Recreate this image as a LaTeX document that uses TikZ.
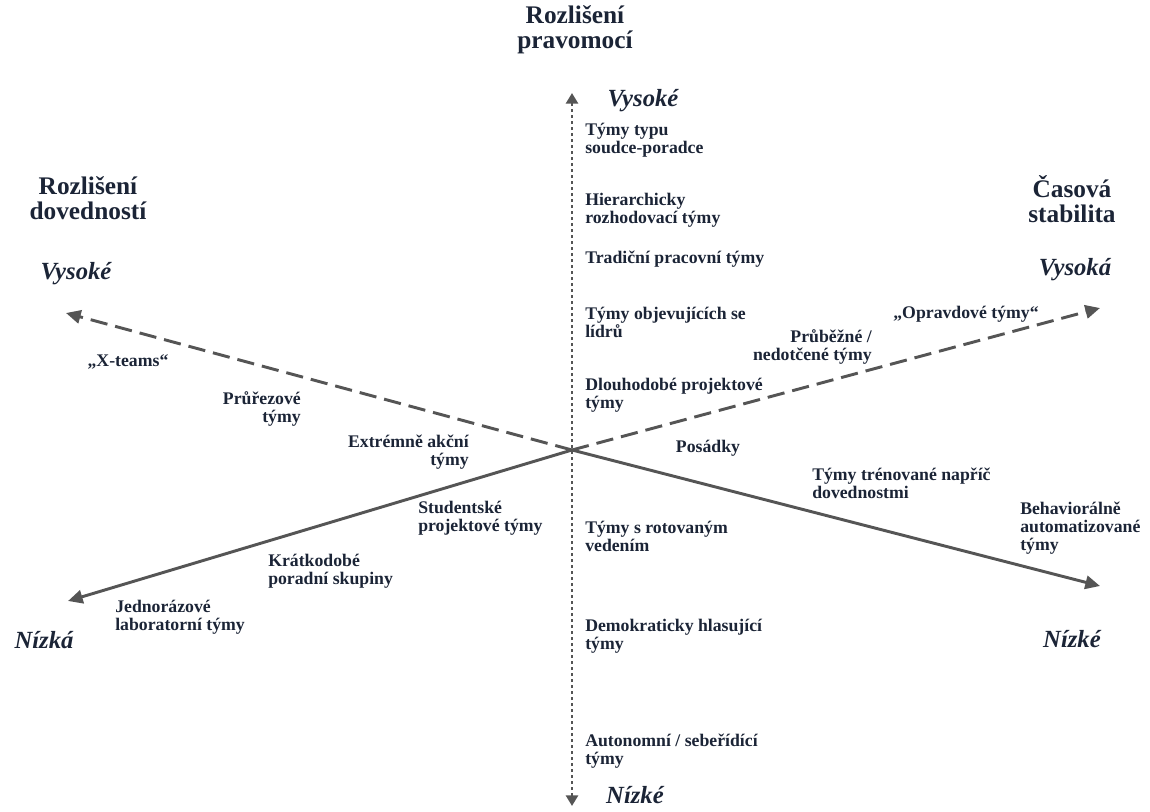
\documentclass[tikz,border=0pt]{standalone}
\usepackage{fontspec}
\setmainfont{Liberation Serif}
\usetikzlibrary{arrows.meta}
\definecolor{txt}{HTML}{1B2436}
\definecolor{ln}{HTML}{555555}
\begin{document}
\begin{tikzpicture}[x=0.75pt,y=-0.75pt,
  lbl/.style={font=\bfseries\fontsize{13.3}{13.5}\selectfont, text=txt, inner sep=0pt, align=left},
  lblr/.style={lbl, align=right},
  ttl/.style={font=\bfseries\fontsize{19}{19}\selectfont, text=txt, inner sep=0pt, align=center},
  lvl/.style={font=\bfseries\itshape\fontsize{18.5}{19}\selectfont, text=txt, inner sep=0pt},
  tip/.style={-{Triangle[length=11pt,width=10pt]}},
  axsolid/.style={draw=ln, line width=2.2pt, tip},
  axdash/.style={draw=ln, line width=2.2pt, tip, dash pattern=on 13pt off 6pt},
  axdot/.style={draw=ln, line width=2.2pt, {Triangle[length=8pt,width=9pt]}-{Triangle[length=8pt,width=9pt]}, dash pattern=on 2.2pt off 2.3pt}]
\useasboundingbox (0,0) rectangle (1150,811);
% axes
\coordinate (c) at (572,450);
\coordinate (vtop) at (572,93);
\coordinate (vbot) at (572,806);
\coordinate (skH) at (66,313);
\coordinate (skL) at (1100,586);
\coordinate (stL) at (68,601);
\coordinate (stH) at (1100,308);
\draw[axdot] (vbot) -- (vtop);
\draw[axdash] (c) -- (skH);
\draw[axsolid] (c) -- (skL);
\draw[axsolid] (c) -- (stL);
\draw[axdash] (c) -- (stH);
% titles
\node[ttl] (tAuth) at (575,30) {Rozlišení\\pravomocí};
\node[lvl] (authH) at (643,101) {Vysoké};
\node[lvl] (authL) at (635,795) {Nízké};
\node[ttl] (tSkill) at (88,198) {Rozlišení\\dovedností};
\node[lvl] (skillH) at (76,274) {Vysoké};
\node[lvl] (skillL) at (1072,639) {Nízké};
\node[ttl] (tStab) at (1072,199) {Časová\\stabilita};
\node[lvl] (stabH) at (1075,270) {Vysoká};
\node[lvl] (stabL) at (44,640) {Nízká};
% vertical list
\node[lbl, anchor=west] (n1) at (585,140) {Týmy typu\\soudce-poradce};
\node[lbl, anchor=west] (n2) at (585,210) {Hierarchicky\\rozhodovací týmy};
\node[lbl, anchor=west] (n3) at (585,259) {Tradiční pracovní týmy};
\node[lbl, anchor=west] (n4) at (585,322) {Týmy objevujících se\\lídrů};
\node[lbl, anchor=west] (n5) at (585,395) {Dlouhodobé projektové\\týmy};
\node[lbl, anchor=west] (n6) at (585,536) {Týmy s rotovaným\\vedením};
\node[lbl, anchor=west] (n7) at (585,636) {Demokraticky hlasující\\týmy};
\node[lbl, anchor=west] (n8) at (585,751) {Autonomní / sebeřídící\\týmy};
% skill axis labels
\node[lbl, anchor=center] (xt) at (128,362) {„X-teams“};
\node[lblr, anchor=east] (pr) at (301,409) {Průřezové\\týmy};
\node[lblr, anchor=east] (ex) at (469,452) {Extrémně akční\\týmy};
\node[lbl, anchor=center] (po) at (708,448) {Posádky};
\node[lbl, anchor=west] (tr) at (812,483) {Týmy trénované napříč\\dovednostmi};
\node[lbl, anchor=west] (be) at (1020,528) {Behaviorálně\\automatizované\\týmy};
% stability axis labels
\node[lbl, anchor=west] (st) at (418,518) {Studentské\\projektové týmy};
\node[lbl, anchor=west] (kr) at (268,571) {Krátkodobé\\poradní skupiny};
\node[lbl, anchor=west] (je) at (115,617) {Jednorázové\\laboratorní týmy};
\node[lblr, anchor=east] (pb) at (872,347) {Průběžné /\\nedotčené týmy};
\node[lbl, anchor=center] (op) at (966,314) {„Opravdové týmy“};
\end{tikzpicture}
\end{document}
